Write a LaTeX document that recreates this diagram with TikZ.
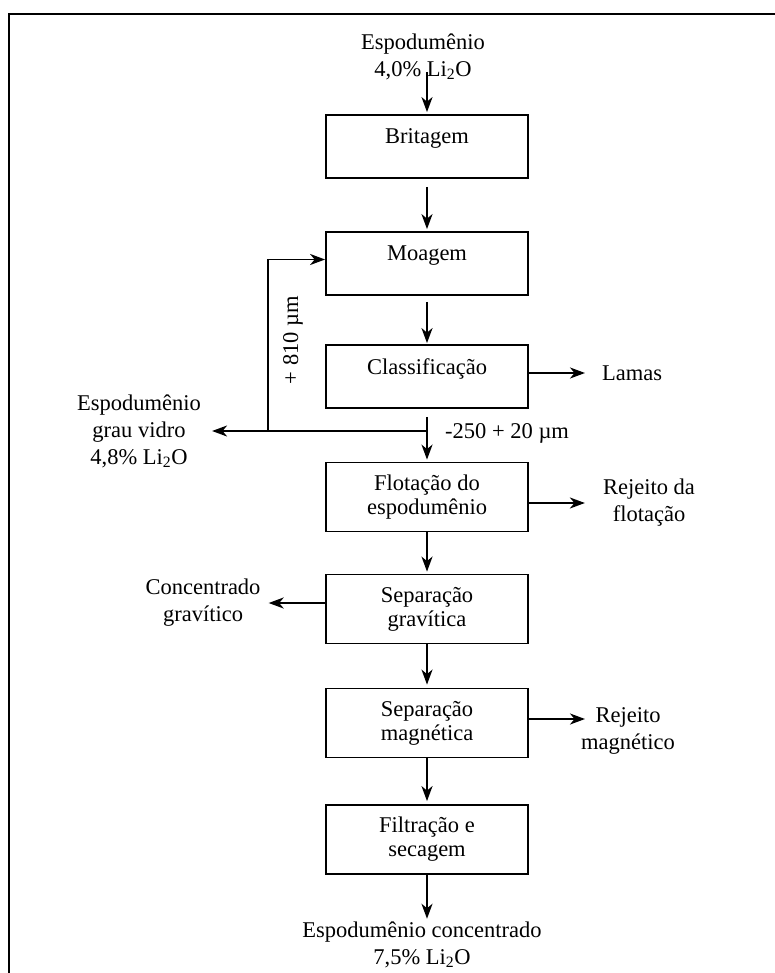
\documentclass[tikz,border=0pt]{standalone}
\usepackage{fontspec}
\setmainfont{Liberation Serif}
\usepackage{tikz}
\usetikzlibrary{positioning,arrows.meta,calc}
\definecolor{fsInk}{HTML}{000000}
\tikzset{
    fsBoxBase/.style={
        rectangle,
        draw=fsInk,
        line width=1.8pt,
        minimum width=202pt,
        inner xsep=4pt,
        align=center,
        font=\fontsize{22.5pt}{24pt}\selectfont
    },
    % single line: text sits high in the box
    fsBox/.style={fsBoxBase, inner ysep=0pt, text height=29pt, text depth=34pt},
    % two lines: text centred
    fsBoxTwo/.style={fsBoxBase, minimum height=69pt, inner ysep=0pt},
    % Arrows
    fsArrowBase/.style={-{Stealth[length=15pt,width=11pt,inset=4.5pt]}, line width=1.9pt, draw=fsInk},
    fsLabel/.style={
        font=\fontsize{22.5pt}{27pt}\selectfont,
        text=fsInk,
        align=center,
        inner sep=3pt
    }
}
\begin{document}
\begin{tikzpicture}[x=1pt,y=-1pt]
    \useasboundingbox (0,0) rectangle (775,973);
    \draw[line width=2.5pt] (9,973) -- (9,14) -- (775,14);

    % process boxes
    \node[fsBox] (britagem) at (427,146.5) {Britagem};
    \node[fsBox] (moagem) at (427,263.5) {Moagem};
    \node[fsBox] (classif) at (427,376.5) {Classificação};
    \node[fsBoxTwo] (flotacao) at (427,497) {Flotação do\\espodumênio};
    \node[fsBoxTwo] (sepgrav) at (427,609) {Separação\\gravítica};
    \node[fsBoxTwo] (sepmag) at (427,723) {Separação\\magnética};
    \node[fsBoxTwo] (filtracao) at (427,839.5) {Filtração e\\secagem};

    % streams
    \node[fsLabel] (feed) at (423,57) {Espodumênio\\4,0\% Li\textsubscript{2}O};
    \node[fsLabel, anchor=west] (lamas) at (599,373) {Lamas};
    \node[fsLabel] (vidro) at (139,431) {Espodumênio\\grau vidro\\4,8\% Li\textsubscript{2}O};
    \node[fsLabel] (rejflot) at (649,503) {Rejeito da\\flotação};
    \node[fsLabel] (concgrav) at (203,603) {Concentrado\\gravítico};
    \node[fsLabel] (rejmag) at (628,731) {Rejeito\\magnético};
    \node[fsLabel] (produto) at (422,945) {Espodumênio concentrado\\7,5\% Li\textsubscript{2}O};
    \node[fsLabel, rotate=90] (oversize) at (293,340) {+ 810 µm};
    \node[fsLabel, anchor=west] (undersize) at (442,433) {-250 + 20 µm};

    \coordinate (feedOut) at (427,72);
    \coordinate (split) at (427,431);
    \coordinate (loop) at (268,431);
    \coordinate (rejmagIn) at (585,719);

    \draw[fsArrowBase, shorten >=2pt] (feedOut) -- (britagem.north);
    \draw[fsArrowBase, shorten <=8pt, shorten >=2pt] (britagem) -- (moagem);
    \draw[fsArrowBase, shorten <=6pt, shorten >=1pt] (moagem) -- (classif);
    \draw[fsArrowBase, shorten <=8pt, shorten >=2pt] (classif) -- (flotacao);
    \draw[fsArrowBase, shorten >=8pt] (split) -- (vidro.east);
    \draw[fsArrowBase] (loop) |- ([yshift=4pt]moagem.west);
    \draw[fsArrowBase, shorten >=14pt] (classif.east |- lamas) -- (lamas.west);
    \draw[fsArrowBase, shorten >=2pt] (flotacao) -- (sepgrav);
    \draw[fsArrowBase, shorten >=15pt] (flotacao.east |- rejflot) -- (rejflot.west);
    \draw[fsArrowBase, shorten >=5pt] (sepgrav.west |- concgrav) -- (concgrav.east);
    \draw[fsArrowBase, shorten >=3pt] (sepgrav) -- (sepmag);
    \draw[fsArrowBase] (sepmag.east |- rejmagIn) -- (rejmagIn);
    \draw[fsArrowBase, shorten >=3pt] (sepmag) -- (filtracao);
    \draw[fsArrowBase] (filtracao.south) -- (filtracao.south |- produto.north);
\end{tikzpicture}
\end{document}
